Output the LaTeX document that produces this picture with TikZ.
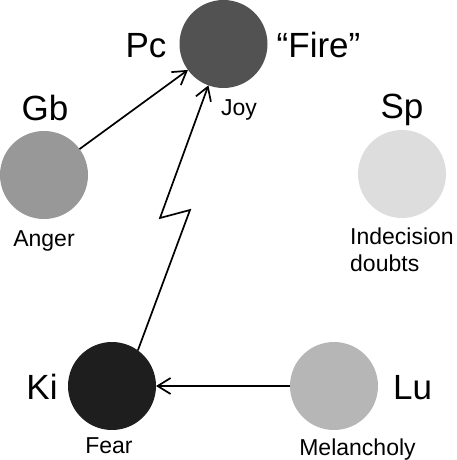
\documentclass[tikz,border=0pt]{standalone}
\usepackage{fontspec}
\setmainfont{Liberation Sans}
\usetikzlibrary{arrows.meta}
\definecolor{cpc}{RGB}{82,82,82}
\definecolor{cgb}{RGB}{152,152,152}
\definecolor{csp}{RGB}{221,221,221}
\definecolor{cki}{RGB}{30,30,30}
\definecolor{clu}{RGB}{182,182,182}
\tikzset{
  ball/.style={circle, draw=none, minimum size=88pt, inner sep=0pt, outer sep=0pt},
  big/.style={anchor=base, inner sep=0pt, font=\fontsize{35}{40}\selectfont},
  small/.style={anchor=base, inner sep=0pt, font=\fontsize{23}{27}\selectfont},
  conn/.style={line width=1.7pt, -{Straight Barb[length=13pt,width=16pt,line width=1.7pt]}}
}
\begin{document}
\begin{tikzpicture}[x=1pt,y=-1pt]
\useasboundingbox (0,0) rectangle (457,460);
\node[ball, fill=cpc] (pc) at (223.5,44) {};
\node[ball, fill=cgb] (gb) at (44,175) {};
\node[ball, fill=csp] (sp) at (402,174) {};
\node[ball, fill=cki] (ki) at (112,386) {};
\node[ball, fill=clu] (lu) at (334,386) {};

\node[big] (pclab) at (146,57) {Pc};
\node[big] (firelab) at (318.5,57) {“Fire”};
\node[big] (gblab) at (45,120) {Gb};
\node[big] (splab) at (402,118) {Sp};
\node[big] (kilab) at (42,399) {Ki};
\node[big] (lulab) at (412.5,399) {Lu};

\node[small] (joylab) at (239,115) {Joy};
\node[small] (angerlab) at (44,246) {Anger};
\node[small] (fearlab) at (109,453) {Fear};
\node[small] (mellab) at (357.5,455) {Melancholy};
\node[small, anchor=base west] (indlab) at (350,244) {Indecision};
\node[small, anchor=base west] (doulab) at (350,271) {doubts};

\coordinate (z1) at (190,210);
\coordinate (z2) at (160,218);

\draw[conn] (gb) -- (pc);
\draw[conn] (lu) -- (ki);
\draw[conn] (ki.54) -- (z1) -- (z2) -- (pc);
\end{tikzpicture}
\end{document}
